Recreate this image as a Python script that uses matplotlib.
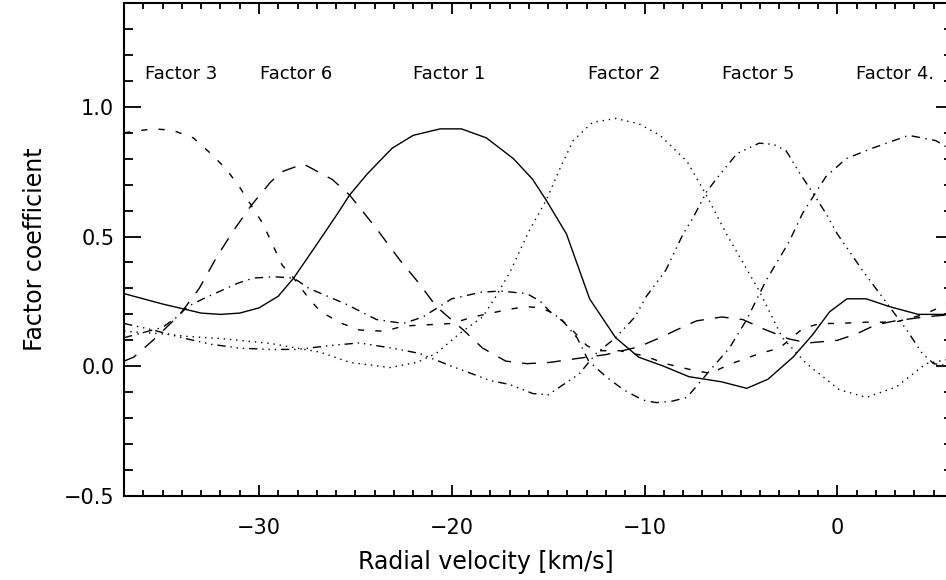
import numpy as np
import matplotlib
matplotlib.use("Agg")
import matplotlib.pyplot as plt
from matplotlib.ticker import MultipleLocator

# ---- data ----
f1_x = [-37, -35, -33, -32, -31, -30, -29, -28.2, -27, -26, -25.3, -24.4, -23.1, -22, -20.6, -19.5,
        -18.2, -16.8, -15.8, -15.1, -14.05, -12.85, -11.5, -10.3, -9, -7.7, -6, -4.7, -3.6, -2.3,
        -1.3, -0.4, 0.5, 1.5, 2.7, 4.2, 6]
f1_y = [0.28, 0.24, 0.205, 0.20, 0.205, 0.225, 0.27, 0.34, 0.47, 0.58, 0.66, 0.74, 0.84, 0.89, 0.915,
        0.915, 0.88, 0.80, 0.72, 0.64, 0.51, 0.26, 0.11, 0.035, 0.0, -0.04, -0.06, -0.085, -0.05,
        0.035, 0.12, 0.21, 0.26, 0.26, 0.23, 0.20, 0.20]

f2_x = [-37, -35, -33.7, -32, -29.4, -26.8, -25.3, -23.2, -21.8, -20.8, -19.6, -18.4, -17.7, -17,
        -16, -15.1, -14.4, -13.7, -12.7, -11.5, -10.3, -9.2, -7.8, -6.8, -5.75, -4.9, -4.05, -2.85,
        -1.6, 0.1, 1.5, 3.05, 4.6, 6]
f2_y = [0.135, 0.125, 0.115, 0.107, 0.088, 0.054, 0.015, -0.005, 0.015, 0.05, 0.126, 0.19, 0.27,
        0.36, 0.52, 0.64, 0.76, 0.87, 0.94, 0.955, 0.935, 0.89, 0.79, 0.66, 0.51, 0.40, 0.29, 0.11,
        0.01, -0.09, -0.12, -0.08, 0.01, 0.03]

f3_x = [-37, -35.5, -34.5, -33.4, -32.5, -31.7, -31, -30.4, -29.8, -29.3, -28.8, -28.2, -27.4,
        -26.8, -25.7, -24.8, -23.5, -22.5, -20, -18.9, -17, -16.1, -15.4, -14.9, -14, -13, -12.5,
        -11.3, -10, -8.9, -7.5, -6.6, -5.5, -4, -3, -1.8, -0.9, 0, 1.5, 3, 4.5, 6]
f3_y = [0.90, 0.915, 0.91, 0.88, 0.82, 0.76, 0.69, 0.62, 0.55, 0.47, 0.39, 0.34, 0.26, 0.21, 0.165,
        0.14, 0.135, 0.155, 0.165, 0.19, 0.22, 0.23, 0.225, 0.21, 0.16, 0.08, 0.06, 0.06, 0.04,
        0.01, -0.015, -0.027, 0.01, 0.05, 0.07, 0.145, 0.165, 0.165, 0.17, 0.17, 0.20, 0.25]

f4_x = [-37, -36, -35, -34.25, -33.7, -32.9, -32, -31.1, -30.3, -29.2, -28.2, -27.4, -25.5, -23.9,
        -22.5, -21.5, -20, -18.5, -17.5, -16.1, -15.4, -14.9, -14.3, -13.5, -12.9, -12, -11.1,
        -10.1, -9.4, -8.6, -7.8, -6.6, -5.6, -4.7, -3.7, -2.5, -1.8, -1.2, -0.6, 0.45, 1.8, 3.7,
        5.1, 6]
f4_y = [0.11, 0.13, 0.15, 0.19, 0.23, 0.26, 0.29, 0.32, 0.34, 0.345, 0.34, 0.30, 0.24, 0.18, 0.165,
        0.19, 0.26, 0.285, 0.29, 0.28, 0.25, 0.21, 0.18, 0.11, 0.02, -0.04, -0.09, -0.13, -0.14,
        -0.135, -0.12, -0.015, 0.07, 0.18, 0.33, 0.48, 0.59, 0.66, 0.73, 0.80, 0.84, 0.89, 0.87, 0.83]

f5_x = [-37, -35.5, -34, -32.5, -31, -29.5, -28, -26.3, -24.8, -23.1, -21.7, -20, -18, -17, -15.8,
        -15, -14.4, -13.4, -12.5, -11.5, -10.5, -9.9, -8.9, -8, -7.5, -6.8, -6.3, -5.2, -4.05,
        -3.3, -2.65, -2, -1.2, -0.6, 0, 1.3, 2.2, 3.6, 4.4, 5, 6]
f5_y = [0.165, 0.14, 0.11, 0.085, 0.07, 0.065, 0.065, 0.08, 0.09, 0.07, 0.05, 0.0, -0.055, -0.07,
        -0.105, -0.11, -0.08, -0.03, 0.05, 0.11, 0.19, 0.27, 0.37, 0.51, 0.57, 0.67, 0.72, 0.82,
        0.86, 0.855, 0.83, 0.75, 0.66, 0.59, 0.51, 0.37, 0.28, 0.14, 0.05, 0.01, 0.0]

f6_x = [-37, -36.5, -35.5, -34.1, -33.1, -32.2, -31.35, -30.4, -29.4, -28.8, -27.7, -26.2, -25.3,
        -23.9, -22.7, -21.7, -20.8, -19.4, -18.4, -17.2, -16.1, -14.9, -13.5, -12, -10.3, -9.2,
        -8.2, -7.3, -6, -4.9, -3.7, -2.5, -1.5, 0, 1, 2, 3, 4.5, 6]
f6_y = [0.02, 0.035, 0.10, 0.20, 0.30, 0.42, 0.52, 0.62, 0.71, 0.75, 0.78, 0.72, 0.66, 0.53, 0.41,
        0.32, 0.23, 0.14, 0.07, 0.02, 0.01, 0.015, 0.03, 0.045, 0.075, 0.11, 0.145, 0.175, 0.19,
        0.18, 0.14, 0.105, 0.09, 0.10, 0.125, 0.16, 0.175, 0.19, 0.20]

labels = ["Factor 3", "Factor 6", "Factor 1", "Factor 2", "Factor 5", "Factor 4."]
label_x = [-35.9, -29.95, -22.0, -12.95, -6.0, 0.95]
label_y = 1.125

# IDL-like line styles: solid, dotted, dashed, dash-dot, dash-dot-dot-dot, long dashes
styles = {
    "f1": (0, ()),
    "f2": (0, (1, 3.5)),
    "f3": (0, (4.5, 8)),
    "f4": (0, (6, 4, 1, 4)),
    "f5": (0, (6, 3.5, 1, 3.5, 1, 3.5, 1, 3.5)),
    "f6": (0, (10, 8)),
}

fig = plt.figure(figsize=(9.46, 5.8), dpi=100)
ax = fig.add_axes([0.1311, 0.1448, 0.8763, 0.8500])

series = [(f1_x, f1_y, "f1"), (f2_x, f2_y, "f2"), (f3_x, f3_y, "f3"),
          (f4_x, f4_y, "f4"), (f5_x, f5_y, "f5"), (f6_x, f6_y, "f6")]
for xs, ys, key in series:
    ax.plot(xs, ys, color="black", lw=1.0, linestyle=styles[key])

for txt, tx in zip(labels, label_x):
    ax.text(tx, label_y, txt, fontsize=13, ha="left", va="center")

ax.set_xlim(-37, 6)
ax.set_ylim(-0.5, 1.4)
ax.xaxis.set_major_locator(MultipleLocator(10))
ax.xaxis.set_minor_locator(MultipleLocator(1))
ax.yaxis.set_minor_locator(MultipleLocator(0.1))
ax.set_yticks([-0.5, 0.0, 0.5, 1.0])
ax.set_yticklabels(["\u22120.5", "0.0", "0.5", "1.0"])

ax.tick_params(axis="both", which="both", direction="in", top=True, right=True, width=1.3)
ax.tick_params(axis="x", which="major", length=8, pad=16, labelsize=15)
ax.tick_params(axis="x", which="minor", length=4)
ax.tick_params(axis="y", which="major", length=12, pad=7, labelsize=15)
ax.tick_params(axis="y", which="minor", length=6.5)
for sp in ax.spines.values():
    sp.set_linewidth(1.5)

ax.set_xlabel("Radial velocity [km/s]", fontsize=17)
ax.set_ylabel("Factor coefficient", fontsize=17, labelpad=12)
# the x title sits left of the axes centre in the reference
ax.xaxis.set_label_coords(0.437, -0.11)

fig.savefig("out.png", dpi=100)
